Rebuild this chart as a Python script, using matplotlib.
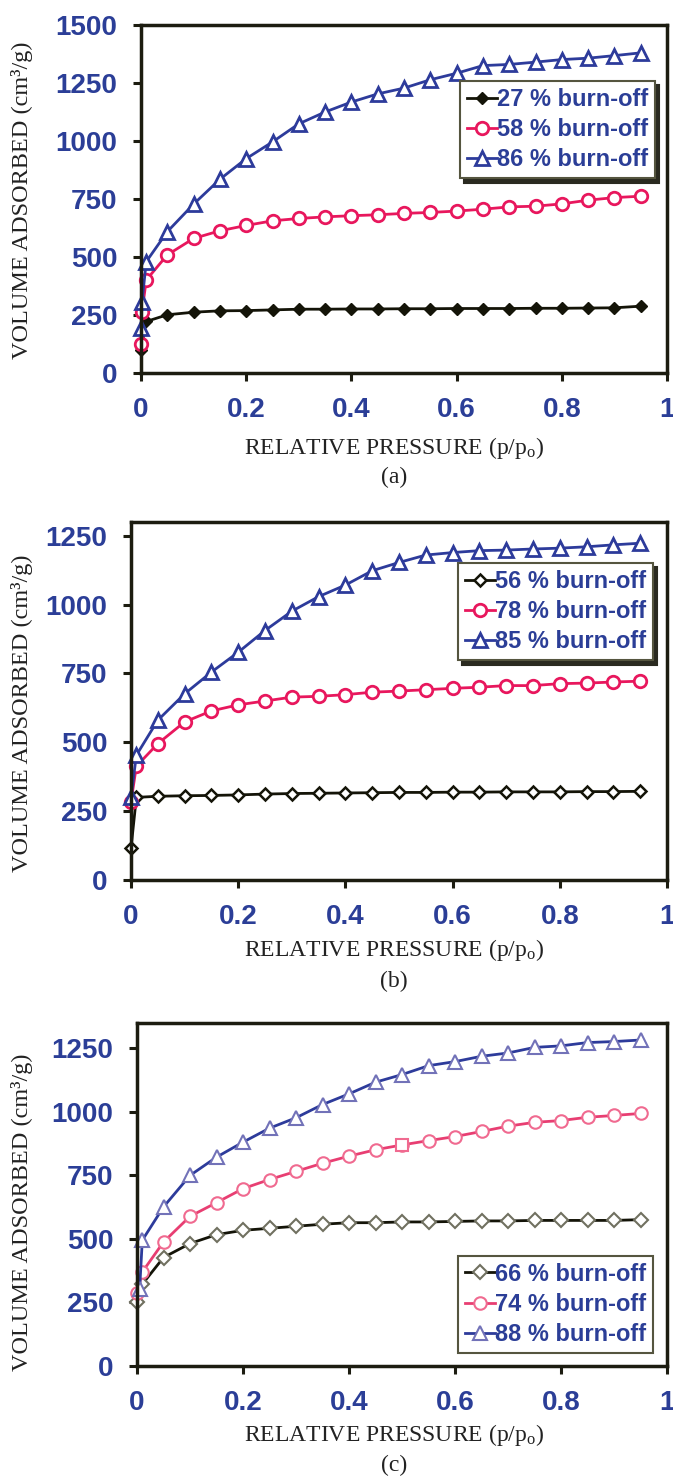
import matplotlib
matplotlib.use("Agg")
import matplotlib.pyplot as plt

# relative pressure grid used by all isotherms (after the low-pressure points)
P_GRID = [0.05, 0.10, 0.15, 0.20, 0.25, 0.30, 0.35, 0.40, 0.45, 0.50,
          0.55, 0.60, 0.65, 0.70, 0.75, 0.80, 0.85, 0.90, 0.95]

# (a)
A_LABELS = ["27 % burn-off", "58 % burn-off", "86 % burn-off"]
A_X27 = [0.0, 0.01] + P_GRID
A_Y27 = [100, 222, 251, 262, 268, 269, 272, 275, 275, 276, 276, 277,
         277, 278, 278, 278, 279, 279, 280, 281, 288]
A_X58 = [0.0, 0.002, 0.01] + P_GRID
A_Y58 = [125, 265, 401, 509, 580, 613, 636, 656, 666, 673, 678, 682, 688,
         692, 698, 706, 716, 719, 729, 745, 756, 762]
A_X86 = [0.0, 0.002, 0.01] + P_GRID
A_Y86 = [193, 308, 480, 609, 728, 835, 924, 996, 1074, 1125, 1168, 1203,
         1228, 1264, 1292, 1325, 1330, 1340, 1351, 1357, 1368, 1380]

# (b)
B_LABELS = ["56 % burn-off", "78 % burn-off", "85 % burn-off"]
B_X = [0.0, 0.01] + P_GRID
B_Y56 = [115, 300, 304, 306, 307, 309, 312, 314, 315, 316, 317, 318,
         318, 319, 319, 320, 320, 320, 321, 321, 322]
B_Y78 = [284, 413, 495, 574, 614, 636, 650, 664, 667, 673, 682, 686,
         691, 696, 700, 706, 706, 713, 715, 719, 722]
B_Y85 = [300, 453, 580, 676, 755, 827, 906, 976, 1029, 1071, 1123, 1153,
         1180, 1189, 1196, 1198, 1202, 1205, 1210, 1217, 1223]

# (c)
C_LABELS = ["66 % burn-off", "74 % burn-off", "88 % burn-off"]
C_X = [0.0, 0.01] + P_GRID
C_Y66 = [250, 322, 427, 482, 517, 534, 542, 550, 558, 564, 564, 567,
         567, 569, 571, 571, 573, 573, 573, 573, 576]
C_Y74 = [288, 370, 488, 589, 643, 698, 734, 766, 798, 826, 851, 870,
         887, 903, 923, 944, 959, 966, 979, 986, 994]
C_X88 = [0.005, 0.01] + P_GRID
C_Y88 = [304, 495, 626, 750, 822, 881, 936, 977, 1029, 1071, 1117, 1147,
         1182, 1198, 1219, 1232, 1254, 1260, 1273, 1277, 1283]

W, H = 673, 1477
TICK_BLUE = "#2b3e97"
AX_COL = "#1c1c10"
BLACK = "#141408"
RED = "#e8175d"
BLUE = "#2d3b9b"

plt.rcParams["mathtext.fontset"] = "custom"
plt.rcParams["mathtext.rm"] = "Liberation Serif"
plt.rcParams["mathtext.it"] = "Liberation Serif:italic"

fig = plt.figure(figsize=(W / 100, H / 100), dpi=100)


def make_axes(left, right, top, bottom):
    # pixel box -> figure fraction
    return fig.add_axes([left / W, 1 - bottom / H, (right - left) / W, (bottom - top) / H])


def style(ax, ymax, yticks):
    ax.set_xlim(0, 1)
    ax.set_ylim(0, ymax)
    ax.set_xticks([0, 0.2, 0.4, 0.6, 0.8, 1])
    ax.set_xticklabels(["0", "0.2", "0.4", "0.6", "0.8", "1"])
    ax.set_yticks(yticks)
    for s in ax.spines.values():
        s.set_linewidth(2.5)
        s.set_color(AX_COL)
    ax.tick_params(direction="out", length=6, width=2.2, color=AX_COL, pad=11,
                   labelsize=20, labelcolor=TICK_BLUE)
    for lab in ax.get_xticklabels() + ax.get_yticklabels():
        lab.set_family("Liberation Sans")
        lab.set_fontweight("bold")


def labels(ylab_y, xlab_y, tag_y, tag):
    fig.text(22 / W, 1 - ylab_y / H, "VOLUME ADSORBED (cm\u00b3/g)", rotation=90,
             ha="center", va="center", family="Liberation Serif", fontsize=17.5,
             color="#222222")
    fig.text(394 / W, 1 - xlab_y / H, "RELATIVE PRESSURE (p/p$_\\mathrm{o}$)",
             ha="center", va="center", family="Liberation Serif", fontsize=17,
             color="#222222")
    fig.text(394 / W, 1 - tag_y / H, tag, ha="center", va="center",
             family="Liberation Serif", fontsize=17, color="#222222")


def add_legend(ax, right, top, loc, shadow):
    if shadow:
        shadow = {"ox": 3, "oy": -3, "color": "#2a2a20", "alpha": 1}
    leg = ax.legend(loc=loc, bbox_to_anchor=(right / W, 1 - top / H),
                    bbox_transform=fig.transFigure, borderaxespad=0,
                    prop={"family": "Liberation Sans", "weight": "bold", "size": 17},
                    labelcolor=TICK_BLUE, handlelength=1.25, handletextpad=0.0,
                    labelspacing=0.3, borderpad=0.3, fancybox=False,
                    framealpha=1, edgecolor="#55553f", shadow=shadow)
    leg.get_frame().set_linewidth(1.5)
    return leg


# ---- (a)
ax = make_axes(141, 667, 25, 373)
ax.plot(A_X27, A_Y27, color=BLACK, lw=2, marker="D", ms=6, mfc=BLACK, mec=BLACK,
        label=A_LABELS[0], clip_on=False)
ax.plot(A_X58, A_Y58, color=RED, lw=2, marker="o", ms=9, mfc="white", mec=RED,
        mew=2, label=A_LABELS[1], clip_on=False)
ax.plot(A_X86, A_Y86, color=BLUE, lw=2, marker="^", ms=10, mfc="white", mec=BLUE,
        mew=2, label=A_LABELS[2], clip_on=False)
style(ax, 1500, [0, 250, 500, 750, 1000, 1250, 1500])
add_legend(ax, 655, 81, "upper right", True)
labels(200, 448, 477, "(a)")

# ---- (b)
ax = make_axes(131, 667, 522, 880)
ax.plot(B_X, B_Y56, color=BLACK, lw=2, marker="D", ms=6, mfc="white", mec=BLACK,
        mew=1.8, label=B_LABELS[0], clip_on=False)
ax.plot(B_X, B_Y78, color=RED, lw=2, marker="o", ms=9, mfc="white", mec=RED,
        mew=2, label=B_LABELS[1], clip_on=False)
ax.plot(B_X, B_Y85, color=BLUE, lw=2, marker="^", ms=10, mfc="white", mec=BLUE,
        mew=2, label=B_LABELS[2], clip_on=False)
style(ax, 1300, [0, 250, 500, 750, 1000, 1250])
add_legend(ax, 653, 563, "upper right", True)
labels(713, 950, 981, "(b)")

# ---- (c)
ax = make_axes(137, 667, 1023, 1366)
ax.plot(C_X, C_Y66, color=BLACK, lw=2, marker="D", ms=7, mfc="white", mec="#707060",
        mew=1.5, label=C_LABELS[0], clip_on=False)
ax.plot(C_X, C_Y74, color="#e83e72", lw=2, marker="o", ms=9, mfc="white",
        mec="#f06a90", mew=1.5, label=C_LABELS[1], clip_on=False)
# one point of the 74 % curve is drawn as a square in the original
sq = C_X.index(0.50)
ax.plot([C_X[sq]], [C_Y74[sq]], ls="none", marker="s", ms=9, mfc="white",
        mec="#f06a90", mew=1.5)
ax.plot(C_X88, C_Y88, color=BLUE, lw=2, marker="^", ms=10, mfc="white", mec="#7272b8",
        mew=1.5, label=C_LABELS[2], clip_on=False)
style(ax, 1350, [0, 250, 500, 750, 1000, 1250])
add_legend(ax, 653, 1353, "lower right", False)
labels(1212, 1435, 1465, "(c)")

fig.savefig("out.png", dpi=100)
